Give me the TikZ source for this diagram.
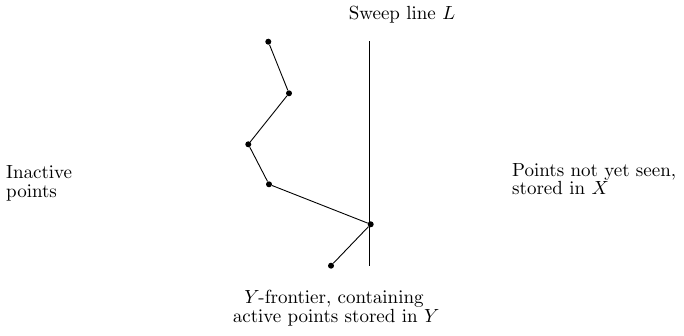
\documentclass[tikz,border=0pt]{standalone}
\font\reffont=cmr10 at 19pt
\font\refmi=cmmi10 at 19pt
\begin{document}
\begin{tikzpicture}[x=1pt,y=-1pt,
  dot/.style={circle,fill=black,inner sep=0pt,minimum size=6pt},
  lbl/.style={inner sep=0pt,font={\fontsize{19}{18.5}\selectfont\reffont}},
  seg/.style={line width=0.9pt},
  sweepline/.style={line width=0.7pt}]
\useasboundingbox (0,0) rectangle (684,335);
\node[dot] (p1) at (268.3,41.7) {};
\node[dot] (p2) at (289,93.3) {};
\node[dot] (p3) at (248.3,144.3) {};
\node[dot] (p4) at (269,184.3) {};
\node[dot] (p5) at (370.7,224.3) {};
\node[dot] (p6) at (331,265.7) {};
\draw[seg] (p1) -- (p2) -- (p3) -- (p4) -- (p5) -- (p6);
\coordinate (ltop) at (369.5,41);
\coordinate (lbot) at (369.5,266);
\draw[sweepline] (ltop) -- (lbot);
\node[lbl,anchor=base] (sweep) at (402,19) {Sweep line {\refmi L}};
\node[lbl,anchor=base west,align=left] (inact) at (6,197) {Inactive\\points};
\node[lbl,anchor=base west,align=left] (notseen) at (512,194.5) {Points not yet seen,\\stored in {\refmi X}};
\node[lbl,anchor=base,align=center] (front) at (334,322) {{\refmi Y}\,-frontier, containing\\active points stored in {\refmi Y}};
\end{tikzpicture}
\end{document}
